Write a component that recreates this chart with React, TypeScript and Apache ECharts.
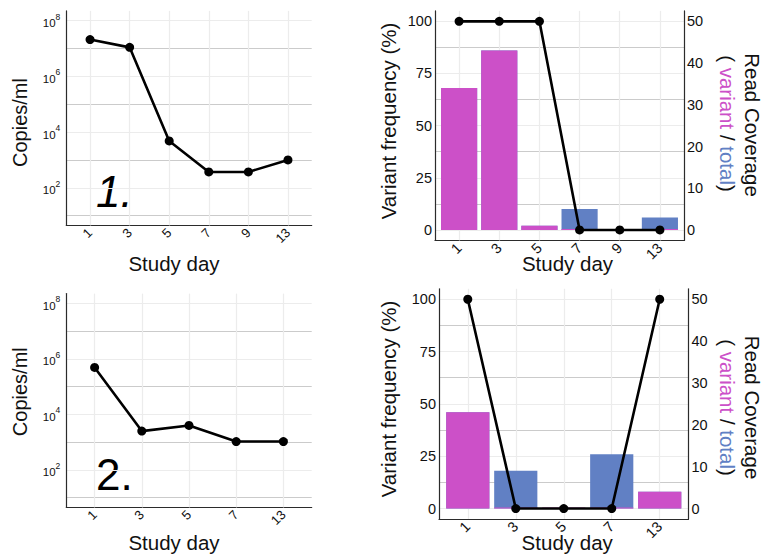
import React, { useEffect, useRef } from 'react';
import * as echarts from 'echarts';

// ---------------- data ----------------
const daysA = ['1', '3', '5', '7', '9', '13'];
const copiesA = [2.1e7, 1.1e7, 4.8e3, 3.7e2, 3.7e2, 1.0e3];
const freqA = [100, 100, 100, 0, 0, 0];
const totalReadsA = [34, 43, 1, 5, 0, 3];
const variantReadsA = [34, 43, 1, 0, 0, 0];

const daysB = ['1', '3', '5', '7', '13'];
const copiesB = [4.9e5, 2.5e3, 4.0e3, 1.05e3, 1.05e3];
const freqB = [100, 0, 0, 0, 100];
const totalReadsB = [23, 9, 0, 13, 4];
const variantReadsB = [23, 0, 0, 0, 4];

const copiesGridExponents = [1, 2, 3, 4, 5, 6, 7, 8];
const copiesLabelExponents = [2, 4, 6, 8];
const freqTicks = [0, 25, 50, 75, 100];
const readTicks = [0, 10, 20, 30, 40, 50];

// ---------------- style ----------------
const FONT = '"Liberation Sans", Arial, Helvetica, sans-serif';
const INK = '#111111';
const AXIS = '#2b2b2b';
const GRID_LIGHT = '#ececec';
const GRID_DARK = '#cbcbcb';
const MAGENTA = '#cc50c8';
const BLUE = '#6180c4';

type Box = { L: number; R: number; T: number; B: number };
const boxTL: Box = { L: 66.3, R: 311.7, T: 10.9, B: 225.4 };
const boxBL: Box = { L: 66.3, R: 311.7, T: 293.6, B: 507.4 };
const boxTR: Box = { L: 435, R: 684, T: 10.9, B: 240.4 };
const boxBR: Box = { L: 439, R: 688.5, T: 288.8, B: 519 };

function buildOption() {
  const grid: any[] = [];
  const xAxis: any[] = [];
  const yAxis: any[] = [];
  const series: any[] = [];
  const addGrid = (l: number, t: number, r: number, b: number) => {
    grid.push({ left: l, top: t, width: r - l, height: b - t, outerBoundsMode: 'none', containLabel: false });
    return grid.length - 1;
  };
  const addX = (o: any) => { xAxis.push(o); return xAxis.length - 1; };
  const addY = (o: any) => { yAxis.push(o); return yAxis.length - 1; };
  const lineOnly = (gridIndex: number, position: string) => ({
    type: 'value', gridIndex, position, min: 0, max: 1,
    axisLine: { show: true, onZero: false, lineStyle: { color: AXIS, width: 1.2 } },
    axisTick: { show: false }, axisLabel: { show: false }, splitLine: { show: false },
  });
  const frame = (box: Box, right: boolean) => {
    const g = addGrid(box.L, box.T, box.R, box.B);
    addX(lineOnly(g, 'bottom'));
    addY(lineOnly(g, 'left'));
    if (right) addY(lineOnly(g, 'right'));
  };
  const vGrid = (n: number) => ({
    silent: true, symbol: ['none', 'none'], z: 1, label: { show: false },
    emphasis: { disabled: true },
    lineStyle: { color: GRID_LIGHT, type: 'solid', width: 1.2 },
    data: Array.from({ length: n }, (_, i) => ({ xAxis: i })),
  });
  const catAxis = (gridIndex: number, days: string[], fs: number) => ({
    type: 'category', gridIndex, data: days, boundaryGap: true,
    axisLine: { show: false, onZero: false }, axisTick: { show: false },
    axisLabel: { interval: 0, rotate: 45, margin: 5, fontSize: fs, fontFamily: FONT, color: INK },
    splitLine: { show: false },
  });

  // ---- log (copies) panel ----
  const logPanel = (box: Box, days: string[], values: number[]) => {
    const H = box.B - box.T;
    const e0 = copiesGridExponents[0];
    const e1 = copiesGridExponents[copiesGridExponents.length - 1];
    const pad = 0.05 * (e1 - e0);
    const lo = e0 - pad, hi = e1 + pad, span = hi - lo;
    frame(box, false);
    const gC = addGrid(box.L, box.T + (hi - e1) / span * H, box.R, box.B - (e0 - lo) / span * H);
    addX({ type: 'value', gridIndex: gC, show: false, min: 0, max: 1 });
    addY({
      type: 'value', gridIndex: gC, min: e0, max: e1, interval: 1,
      axisLine: { show: false }, axisTick: { show: false },
      axisLabel: {
        margin: 6, fontSize: 11.5, color: INK, fontFamily: FONT,
        formatter: (v: number) => (copiesLabelExponents.includes(Math.round(v)) ? `{b|10}{s|${Math.round(v)}}` : ''),
        rich: {
          b: { fontSize: 11.5, fontFamily: FONT, color: INK, padding: [5, 0, 0, 0] },
          s: { fontSize: 8.5, fontFamily: FONT, color: INK, verticalAlign: 'top', lineHeight: 9 },
        },
      },
      splitLine: { show: true, lineStyle: { color: [GRID_DARK, GRID_LIGHT], width: 1.2 } },
    });
    const u = (box.R - box.L) / (days.length - 1 + 1.2);
    const gB = addGrid(box.L + 0.1 * u, box.T, box.R - 0.1 * u, box.B);
    const xi = addX(catAxis(gB, days, 13));
    const yi = addY({ type: 'log', logBase: 10, gridIndex: gB, min: Math.pow(10, lo), max: Math.pow(10, hi), show: false });
    series.push({
      type: 'line', xAxisIndex: xi, yAxisIndex: yi, data: values,
      lineStyle: { color: '#000', width: 2.6 }, itemStyle: { color: '#000' },
      symbol: 'circle', symbolSize: 9, showSymbol: true, z: 3,
      markLine: vGrid(days.length),
    });
  };

  // ---- frequency / coverage panel ----
  const freqPanel = (box: Box, days: string[], freq: number[], total: number[], variant: number[]) => {
    const H = box.B - box.T;
    const f0 = freqTicks[0], f1 = freqTicks[freqTicks.length - 1];
    const r0 = readTicks[0], r1 = readTicks[readTicks.length - 1];
    const fpad = 0.05 * (f1 - f0), rpad = 0.05 * (r1 - r0);
    const fspan = f1 - f0 + 2 * fpad;
    frame(box, true);
    const gC = addGrid(box.L, box.T + fpad / fspan * H, box.R, box.B - fpad / fspan * H);
    addX({ type: 'value', gridIndex: gC, show: false, min: 0, max: 1 });
    addY({
      type: 'value', gridIndex: gC, position: 'left', min: f0, max: f1, interval: freqTicks[1] - freqTicks[0],
      axisLine: { show: false }, axisTick: { show: false },
      axisLabel: { margin: 3, fontSize: 14.5, fontFamily: FONT, color: INK },
      splitLine: { show: true, lineStyle: { color: GRID_LIGHT, width: 1.2 } },
      minorTick: { show: false, splitNumber: 2 },
      minorSplitLine: { show: true, lineStyle: { color: GRID_DARK, width: 1.2 } },
    });
    addY({
      type: 'value', gridIndex: gC, position: 'right', min: r0, max: r1, interval: readTicks[1] - readTicks[0],
      axisLine: { show: false }, axisTick: { show: false },
      axisLabel: { margin: 3, fontSize: 14.5, fontFamily: FONT, color: INK },
      splitLine: { show: false },
    });
    const u = (box.R - box.L) / (days.length + 0.2);
    const gB = addGrid(box.L + 0.1 * u, box.T, box.R - 0.1 * u, box.B);
    const xi = addX(catAxis(gB, days, 14.5));
    const yf = addY({ type: 'value', gridIndex: gB, min: f0 - fpad, max: f1 + fpad, show: false });
    const yr = addY({ type: 'value', gridIndex: gB, min: r0 - rpad, max: r1 + rpad, show: false, position: 'right' });
    series.push({
      type: 'bar', xAxisIndex: xi, yAxisIndex: yr, data: total, barWidth: '90%', barGap: '-100%',
      itemStyle: { color: BLUE }, z: 2, markLine: vGrid(days.length),
    });
    series.push({
      type: 'bar', xAxisIndex: xi, yAxisIndex: yr, data: variant, barWidth: '90%', barGap: '-100%',
      barMinHeight: 1, itemStyle: { color: MAGENTA }, z: 2,
    });
    series.push({
      type: 'line', xAxisIndex: xi, yAxisIndex: yf, data: freq,
      lineStyle: { color: '#000', width: 2.6 }, itemStyle: { color: '#000' },
      symbol: 'circle', symbolSize: 9, showSymbol: true, z: 3,
    });
  };

  logPanel(boxTL, daysA, copiesA);
  freqPanel(boxTR, daysA, freqA, totalReadsA, variantReadsA);
  logPanel(boxBL, daysB, copiesB);
  freqPanel(boxBR, daysB, freqB, totalReadsB, variantReadsB);

  const txt = (text: string, x: number, y: number, fs: number, rotation = 0, extra: any = {}) => ({
    type: 'text', x, y, rotation, silent: true,
    style: { text, fontSize: fs, fontFamily: FONT, fill: INK, align: 'center', verticalAlign: 'middle', ...extra },
  });
  const covRich = {
    v: { fill: MAGENTA, color: MAGENTA, fontSize: 20.5, fontFamily: FONT },
    t: { fill: BLUE, color: BLUE, fontSize: 20.5, fontFamily: FONT },
  };
  const graphic = [
    txt('Copies/ml', 19.5, 122.5, 20, Math.PI / 2),
    txt('Copies/ml', 19.5, 391.7, 20, Math.PI / 2),
    txt('Study day', 174, 263.4, 20.5),
    txt('Study day', 174, 542.5, 20.5),
    txt('Study day', 567.5, 263.4, 20.5),
    txt('Study day', 567.2, 542.5, 20.5),
    txt('Variant frequency (%)', 388, 121, 20.5, Math.PI / 2),
    txt('Variant frequency (%)', 388, 399, 20.5, Math.PI / 2),
    txt('Read Coverage', 752.5, 125, 20.5, -Math.PI / 2),
    txt('Read Coverage', 752.5, 407.5, 20.5, -Math.PI / 2),
    txt('( {v|variant} / {t|total})', 727, 123.5, 20.5, -Math.PI / 2, { rich: covRich }),
    txt('( {v|variant} / {t|total})', 727, 407.5, 20.5, -Math.PI / 2, { rich: covRich }),
    txt('1.', 96, 191.5, 44, 0, { align: 'left', fontStyle: 'italic', fill: '#000' }),
    txt('2.', 96, 474, 44, 0, { align: 'left', fill: '#000' }),
  ];

  return {
    animation: false,
    backgroundColor: '#ffffff',
    grid, xAxis, yAxis, series, graphic,
    tooltip: { show: false },
  };
}

export default function App() {
  const ref = useRef<HTMLDivElement>(null);
  useEffect(() => {
    if (!ref.current) return;
    const chart = echarts.init(ref.current, undefined, { renderer: 'svg' });
    chart.setOption(buildOption() as any);
    return () => chart.dispose();
  }, []);
  return <div ref={ref} style={{ position: 'absolute', left: 0, top: 0, width: 763, height: 555 }} />;
}
